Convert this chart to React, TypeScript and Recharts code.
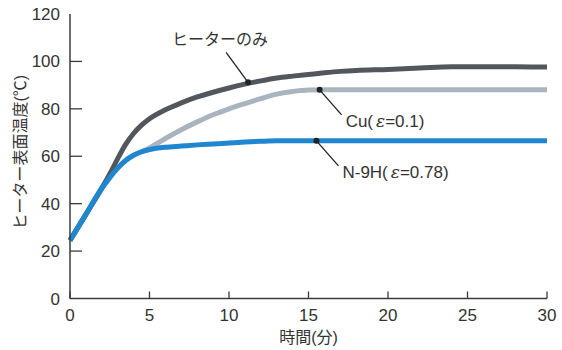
import { LineChart, Line, XAxis, YAxis, ReferenceDot } from 'recharts';

// 時間(分)
const times = [0, 1, 2, 2.5, 3, 3.5, 4, 4.5, 5, 6, 7, 8, 9, 10, 11, 12, 13, 14, 15, 16, 17, 18, 20, 22, 24, 26, 28, 30];
// ヒーター表面温度(℃)
const heaterOnly = [24.5, 35.5, 46.5, 52.5, 59, 65, 69.6, 73.1, 75.8, 79.6, 82.5, 85, 87, 88.8, 90.4, 91.8, 93, 93.8, 94.5, 95.2, 95.8, 96.2, 96.6, 97.2, 97.8, 97.8, 97.7, 97.6];
const cuTemps = [24.5, 35.5, 46.5, 51, 55, 58.2, 60.4, 61.9, 63.5, 67.5, 71.2, 74.5, 77.5, 80, 82.2, 84.3, 86.2, 87.3, 87.9, 88, 88, 88, 88, 88, 88, 88, 88, 88];
const n9hTemps = [24.5, 35.5, 46.5, 51, 55, 58.2, 60.4, 61.9, 62.8, 63.8, 64.3, 64.8, 65.2, 65.6, 66, 66.3, 66.5, 66.5, 66.5, 66.5, 66.5, 66.5, 66.5, 66.5, 66.5, 66.5, 66.5, 66.5];

const xTicks = [0, 5, 10, 15, 20, 25, 30];
const yTicks = [0, 20, 40, 60, 80, 100, 120];

const annotationNames = ['ヒーターのみ', 'Cu', 'N-9H'];
const annotationEps = ['', '0.1', '0.78'];
const annotationTimes = [11.2, 15.7, 15.5];
const annotationTemps = [91.2, 88, 66.5];

const data = times.map((t, i) => ({
  t,
  heater: heaterOnly[i],
  cu: cuTemps[i],
  n9h: n9hTemps[i],
}));

const FONT = '"Liberation Sans", "Noto Sans CJK JP", sans-serif';
const AXIS = '#3a3a3a';

const XTick = ({ x, y, payload }: any) => (
  <g>
    <line x1={x} y1={y} x2={x} y2={y - 7} stroke={AXIS} strokeWidth={1.3} />
    <text x={x} y={y + 22} textAnchor="middle" fontSize={17} fill="#333" fontFamily={FONT}>
      {payload.value}
    </text>
  </g>
);

const YTick = ({ x, y, payload }: any) => (
  <g>
    {payload.value > 0 && payload.value < 120 && (
      <line x1={x} y1={y} x2={x + 12} y2={y} stroke={AXIS} strokeWidth={1.3} />
    )}
    <text x={x - 10} y={y + 6} textAnchor="end" fontSize={17} fill="#333" fontFamily={FONT}>
      {payload.value}
    </text>
  </g>
);

const YTitle = ({ viewBox }: any) => {
  const cy = viewBox.y + viewBox.height / 2 - 4;
  return (
    <text
      x={20}
      y={cy}
      transform={`rotate(-90 20 ${cy})`}
      textAnchor="middle"
      dominantBaseline="central"
      fontSize={16}
      fill="#333"
      fontFamily={FONT}
    >
      ヒーター表面温度(℃)
    </text>
  );
};

const makeNote = (i: number) => (props: any) => {
  const { cx, cy } = props;
  if (i === 0) {
    return (
      <g>
        <line x1={cx} y1={cy} x2={cx - 22} y2={cy - 30} stroke="#222" strokeWidth={1.3} />
        <circle cx={cx} cy={cy} r={3} fill="#222" />
        <text x={cx - 28} y={cy - 37} textAnchor="middle" fontSize={16} fill="#333" fontFamily={FONT}>
          {annotationNames[i]}
        </text>
      </g>
    );
  }
  return (
    <g>
      <line x1={cx} y1={cy} x2={cx + 22} y2={cy + 25} stroke="#222" strokeWidth={1.3} />
      <circle cx={cx} cy={cy} r={3} fill="#222" />
      <text x={cx + 26} y={cy + 37} fontSize={17} fill="#333" fontFamily={FONT}>
        {annotationNames[i]}(
        <tspan dx={3} fontStyle="italic" fontFamily="'DejaVu Serif', serif">ε</tspan>
        <tspan>={annotationEps[i]})</tspan>
      </text>
    </g>
  );
};

export default function App() {
  return (
    <div style={{ width: 562, height: 350, background: '#fff' }}>
      <style>{'body{margin:0}'}</style>
      <LineChart width={562} height={350} data={data} margin={{ top: 14, right: 15, bottom: 0, left: 0 }}>
        <XAxis
          dataKey="t"
          type="number"
          domain={[0, 30]}
          ticks={xTicks}
          height={51.5}
          tickSize={0}
          tickMargin={0}
          tick={<XTick />}
          tickLine={false}
          axisLine={{ stroke: AXIS, strokeWidth: 1.5 }}
          label={{ value: '時間(分)', position: 'insideBottom', offset: 7, fontSize: 16, fill: '#333', fontFamily: FONT }}
        />
        <XAxis
          xAxisId="top"
          dataKey="t"
          type="number"
          orientation="top"
          domain={[0, 30]}
          height={0}
          tick={false}
          tickLine={false}
          axisLine={{ stroke: AXIS, strokeWidth: 1.5 }}
        />
        <YAxis
          type="number"
          domain={[0, 120]}
          ticks={yTicks}
          width={70}
          tickSize={0}
          tickMargin={0}
          tick={<YTick />}
          tickLine={false}
          axisLine={{ stroke: AXIS, strokeWidth: 1.5 }}
          label={<YTitle />}
        />
        <YAxis
          yAxisId="right"
          type="number"
          orientation="right"
          domain={[0, 120]}
          width={0}
          tick={false}
          tickLine={false}
          axisLine={{ stroke: AXIS, strokeWidth: 1.5 }}
        />
        <Line dataKey="cu" type="monotone" stroke="#a9b4be" strokeWidth={5} dot={false} isAnimationActive={false} />
        <Line dataKey="heater" type="monotone" stroke="#52575d" strokeWidth={5} dot={false} isAnimationActive={false} />
        <Line dataKey="n9h" type="monotone" stroke="#1f87cf" strokeWidth={5} dot={false} isAnimationActive={false} />
        {annotationNames.map((name, i) => (
          <ReferenceDot key={name} x={annotationTimes[i]} y={annotationTemps[i]} shape={makeNote(i)} />
        ))}
      </LineChart>
    </div>
  );
}
